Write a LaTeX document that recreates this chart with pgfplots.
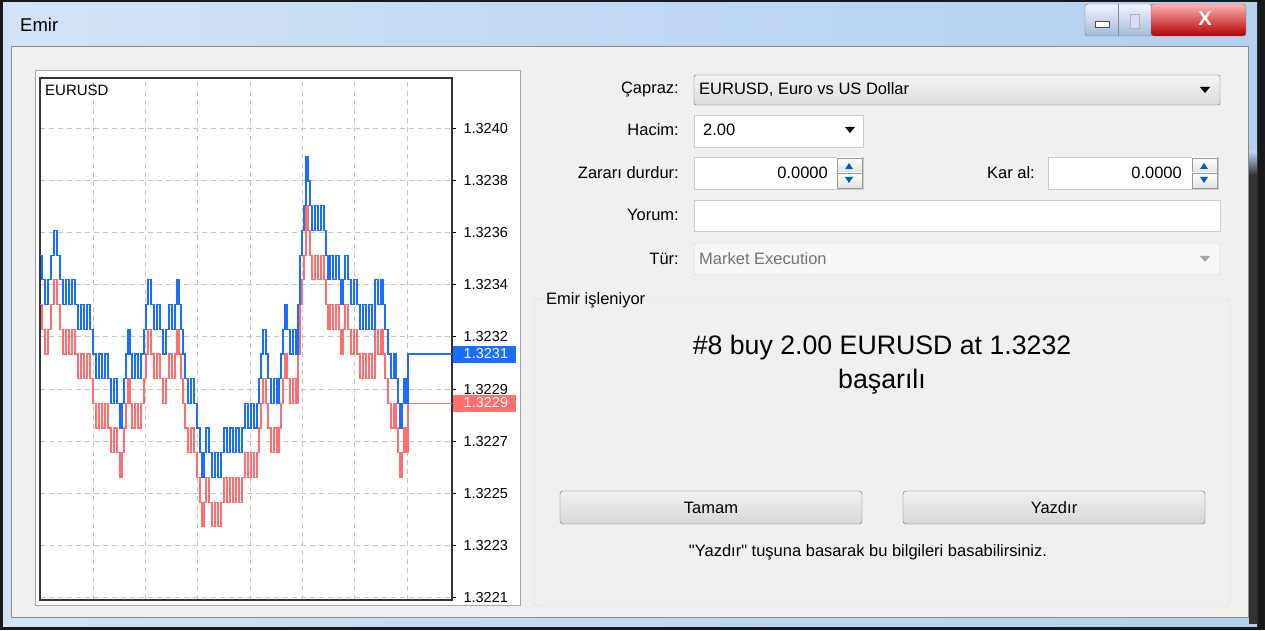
\documentclass[border=0pt]{standalone}
\usepackage{pgfplots}
\pgfplotsset{compat=1.18}
\usepackage{fontspec}
\setmainfont{Liberation Sans}[Ligatures=TeXOff]
\definecolor{bluel}{HTML}{1A6EFF}
\definecolor{redl}{HTML}{FF6E6E}
\definecolor{clientbg}{HTML}{F0F0F0}
\definecolor{framea}{HTML}{D3E3F5}
\definecolor{frameb}{HTML}{B5D1EF}
\definecolor{gridc}{HTML}{C4C4C4}
\newcommand\fs[1]{\fontsize{#1}{#1}\selectfont}
\begin{document}
\begin{tikzpicture}
\begin{scope}[x=1pt,y=1pt]
\useasboundingbox (0,0) rectangle (1265,630);
\fill[black!90] (0,0) rectangle (1265,630);
% window frame
\shade[left color=framea, right color=frameb, middle color=frameb!85!white] (3,4) rectangle (1257,627);
\shade[top color=frameb, bottom color=black!80] (1249,455) rectangle (1257,478);
\fill[black!80] (1249,6) rectangle (1257,455);
% client area
\fill[clientbg] (11,12) rectangle (1249,584);
\draw[black!45] (11.5,12.5) rectangle (1248.5,583.5);
\node[anchor=west, inner sep=0pt] at (20,605) {\fs{18.5}Emir};
% title buttons
\shade[top color=white!95!blue, bottom color=frameb!90!black, draw=black!55, rounded corners=3pt] (1085,594) -- (1085,626) -- (1152,626) -- (1152,594) -- cycle;
\draw[black!45] (1118,594) -- (1118,626);
\fill[white] (1095,603) rectangle (1109,609); \draw[black!70] (1095,603) rectangle (1109,609);
\draw[black!30, fill=white!85!blue] (1130,602) rectangle (1139,616);
\shade[top color=red!30!white, bottom color=red!70!black, draw=black!55, rounded corners=3pt] (1151,594) rectangle (1246,626);
\node[white, inner sep=0pt] at (1205,611) {\fs{20}\bfseries X};
% chart panel
\fill[white] (35,25) rectangle (520,560);
\draw[black!35] (35,25) rectangle (520,560);
\end{scope}
\begin{axis}[
  at={(40pt,30pt)}, anchor=south west, scale only axis,
  width=412pt, height=522pt,
  xmin=40, xmax=452, ymin=21.04, ymax=42.17,
  axis line style={black!80, line width=1.2pt},
  xtick={93,145.3,197.6,250,302.3,354.6,407},
  xticklabels={}, xtick style={draw=none},
  ytick={40.14,38.03,35.91,33.80,31.69,29.58,27.47,25.35,23.24,21.13},
  yticklabels={1.3240,1.3238,1.3236,1.3234,1.3232,1.3229,1.3227,1.3225,1.3223,1.3221},
  yticklabel pos=right, ytick pos=right, ytick align=outside,
  major tick length=4pt, ytick style={black, line width=1pt},
  yticklabel style={font=\fs{14.5}, anchor=west, xshift=4pt},
  grid=major, grid style={gridc, dash pattern=on 5pt off 4pt, line width=1pt},
  /pgf/number format/assume math mode=true,
]
\addplot[const plot, redl, line width=1.2pt] coordinates {
(40,33)(42,32)(45,31)(48,32)(51,33)(54,34)(57,33)(60,32)(63,31)(66,32)(69,31)(72,32)(75,31)(78,30)(81,31)(84,30)(87,31)(90,30)(93,29)(96,28)(99,29)(102,28)(105,29)(108,28)(111,27)(114,28)(117,27)(120,26)(122,27)(124,28)(126,29)(128,30)(130,29)(132,28)(135,29)(138,28)(141,29)(144,30)(146,31)(148,32)(151,31)(154,30)(157,31)(160,30)(163,29)(166,30)(169,31)(172,30)(175,31)(177,32)(179,31)(181,30)(183,29)(185,28)(188,27)(191,28)(194,27)(197,26)(200,25)(202,24)(204,25)(206,26)(209,25)(212,24)(215,25)(218,24)(221,25)(224,26)(227,25)(230,26)(233,25)(236,26)(239,25)(242,26)(245,27)(248,26)(251,27)(254,26)(257,27)(259,28)(261,29)(263,30)(266,29)(268,28)(271,27)(274,28)(277,27)(279,28)(281,29)(283,30)(285,31)(287,30)(290,29)(293,30)(296,29)(298,31)(300,33)(302,34)(304,35)(306,37)(308,36)(310,35)(312,34)(315,35)(318,34)(321,35)(324,34)(326,33)(328,32)(330,33)(333,32)(336,33)(339,32)(341,31)(343,32)(345,33)(348,32)(351,31)(354,32)(357,31)(360,30)(363,31)(366,30)(369,31)(372,30)(375,32)(378,31)(381,32)(383,31)(385,30)(388,29)(391,28)(394,29)(396,28)(398,27)(400,26)(402,27)(404,28)(406,27)(408,29)(452,29)
};
\addplot[const plot, bluel, line width=1.2pt] coordinates {
(40,35)(42,34)(45,33)(48,34)(51,35)(54,36)(57,35)(60,34)(63,33)(66,34)(69,33)(72,34)(75,33)(78,32)(81,33)(84,32)(87,33)(90,32)(93,31)(96,30)(99,31)(102,30)(105,31)(108,30)(111,29)(114,30)(117,29)(120,28)(122,29)(124,30)(126,31)(128,32)(130,31)(132,30)(135,31)(138,30)(141,31)(144,32)(146,33)(148,34)(151,33)(154,32)(157,33)(160,32)(163,31)(166,32)(169,33)(172,32)(175,33)(177,34)(179,33)(181,32)(183,31)(185,30)(188,29)(191,30)(194,29)(197,28)(200,27)(202,26)(204,27)(206,28)(209,27)(212,26)(215,27)(218,26)(221,27)(224,28)(227,27)(230,28)(233,27)(236,28)(239,27)(242,28)(245,29)(248,28)(251,29)(254,28)(257,29)(259,30)(261,31)(263,32)(266,31)(268,30)(271,29)(274,30)(277,29)(279,30)(281,31)(283,32)(285,33)(287,32)(290,31)(293,32)(296,31)(298,33)(300,35)(302,36)(304,37)(306,39)(308,38)(310,37)(312,36)(315,37)(318,36)(321,37)(324,36)(326,35)(328,34)(330,35)(333,34)(336,35)(339,34)(341,33)(343,34)(345,35)(348,34)(351,33)(354,34)(357,33)(360,32)(363,33)(366,32)(369,33)(372,32)(375,34)(378,33)(381,34)(383,33)(385,32)(388,31)(391,30)(394,31)(396,30)(398,29)(400,28)(402,29)(404,30)(406,29)(408,31)(452,31)
};
\end{axis}
\begin{scope}[x=1pt,y=1pt]
\node[anchor=west, inner sep=0pt] at (45,540) {\fs{15}EURUSD};
% price boxes
\node[anchor=west, fill=bluel, text=white, inner sep=0pt, minimum width=63pt, minimum height=17pt] at (453,276) {\fs{14.5}\,1.3231};
\node[anchor=west, fill=redl, text=white, inner sep=0pt, minimum width=63pt, minimum height=17pt] at (453,227) {\fs{14.5}\,1.3229};
% right side form
\begin{scope}[every node/.style={inner sep=0pt}]
\node[anchor=east] at (679,541) {\fs{16.5}Çapraz:};
\node[anchor=east] at (679,500) {\fs{16.5}Hacim:};
\node[anchor=east] at (679,457) {\fs{16.5}Zararı durdur:};
\node[anchor=east] at (1035,457) {\fs{16.5}Kar al:};
\node[anchor=east] at (679,415) {\fs{16.5}Yorum:};
\node[anchor=east] at (679,371) {\fs{16.5}Tür:};
% combo
\shade[top color=white!96!black, bottom color=black!14, draw=black!60, rounded corners=2pt] (694,525) rectangle (1220,555);
\node[anchor=west] at (699,540) {\fs{16.5}EURUSD, Euro vs US Dollar};
\fill (1200,543) -- (1210,543) -- (1205,537) -- cycle;
% hacim
\fill[white] (694,483) rectangle (863,515); \draw[black!20] (694,483) rectangle (863,515);
\node[anchor=west] at (703,500) {\fs{16.5}2.00};
\fill (845,503) -- (855,503) -- (850,497) -- cycle;
% stop loss
\fill[white] (694,441) rectangle (863,473); \draw[black!20] (694,441) rectangle (863,473);
\node[anchor=east] at (828,457) {\fs{16.5}0.0000};
\shade[top color=white, bottom color=black!12, draw=black!40] (837,457) rectangle (862,472);
\shade[top color=white, bottom color=black!12, draw=black!40] (837,442) rectangle (862,457);
\fill[blue!55!cyan!80!black] (845,461) -- (853,461) -- (849,467) -- cycle;
\fill[blue!55!cyan!80!black] (845,453) -- (853,453) -- (849,447) -- cycle;
% take profit
\fill[white] (1048,441) rectangle (1218,473); \draw[black!20] (1048,441) rectangle (1218,473);
\node[anchor=east] at (1182,457) {\fs{16.5}0.0000};
\shade[top color=white, bottom color=black!12, draw=black!40] (1192,457) rectangle (1217,472);
\shade[top color=white, bottom color=black!12, draw=black!40] (1192,442) rectangle (1217,457);
\fill[blue!55!cyan!80!black] (1200,461) -- (1208,461) -- (1204,467) -- cycle;
\fill[blue!55!cyan!80!black] (1200,453) -- (1208,453) -- (1204,447) -- cycle;
% yorum
\fill[white] (694,399) rectangle (1220,430); \draw[black!20] (694,399) rectangle (1220,430);
% tur
\fill[black!3] (694,355) rectangle (1220,387); \draw[black!22, rounded corners=2pt] (694,355) rectangle (1220,387);
\node[anchor=west, text=black!55] at (699,371) {\fs{16.5}Market Execution};
\fill[black!35] (1200,374) -- (1210,374) -- (1205,368) -- cycle;
% group box
\draw[black!15, rounded corners=4pt] (534,24) rectangle (1230,331);
\node[anchor=west, fill=clientbg, inner xsep=2pt] at (544,330) {\fs{16.5}Emir işleniyor};
\node at (882,282) {\fs{26.7}\#8 buy 2.00 EURUSD at 1.3232};
\node at (882,248) {\fs{26.7}başarılı};
% buttons
\shade[top color=white!95!black, bottom color=black!16, draw=black!60, rounded corners=3pt] (560,106) rectangle (862,139);
\node at (711,122) {\fs{16.5}Tamam};
\shade[top color=white!95!black, bottom color=black!16, draw=black!60, rounded corners=3pt] (903,106) rectangle (1205,139);
\node at (1054,122) {\fs{16.5}Yazdır};
\node at (868,78) {\fs{16.5}"Yazdır" tuşuna basarak bu bilgileri basabilirsiniz.};
\end{scope}
\end{scope}
\end{tikzpicture}
\end{document}
